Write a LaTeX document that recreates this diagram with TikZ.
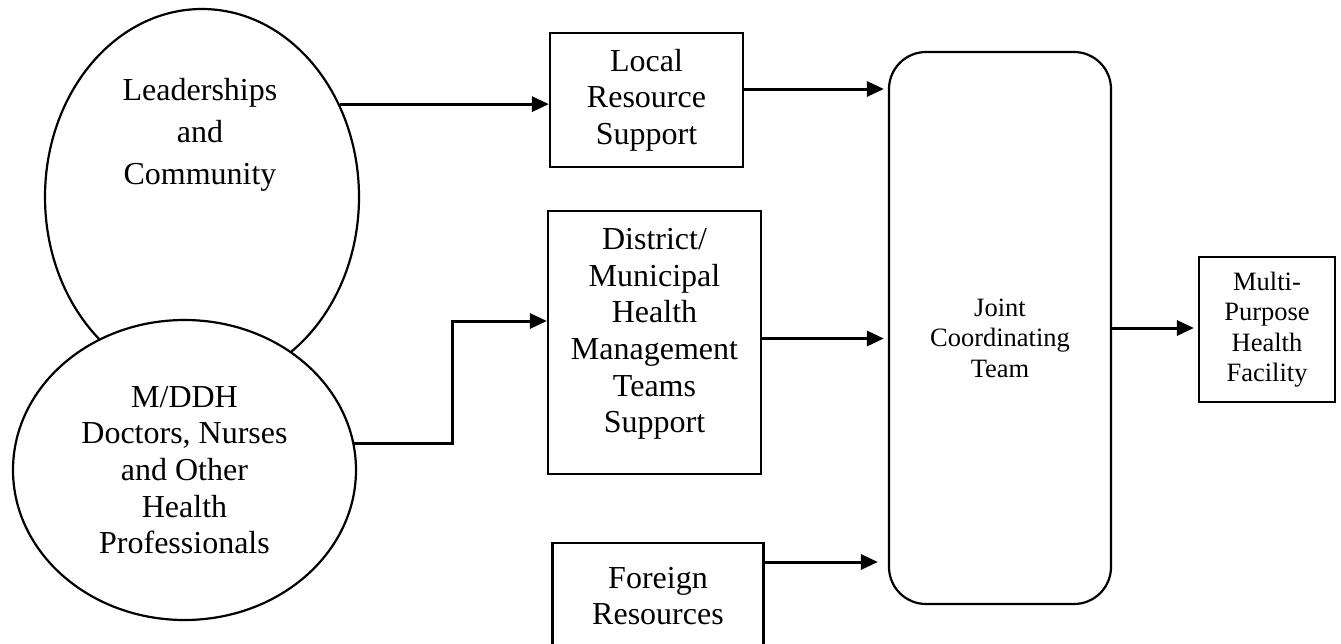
\documentclass[tikz,border=0pt]{standalone}
\usepackage{fontspec}
\setmainfont{Liberation Serif}
\usetikzlibrary{shapes.geometric,arrows.meta}
\begin{document}
\begin{tikzpicture}[x=1pt,y=-1pt,
  bigtext/.style={font=\fontsize{32}{36.6}\selectfont, align=center, inner sep=0pt},
  smalltext/.style={font=\fontsize{26.5}{30.5}\selectfont, align=center, inner sep=0pt},
  oval/.style={draw, line width=2.2pt, shape=ellipse, inner sep=0pt, fill=white},
  rectbox/.style={draw, line width=2.2pt, inner sep=0pt, fill=white},
  conn/.style={line width=3pt, -{Triangle[length=17pt,width=15pt]}}
]
\useasboundingbox (0,0) rectangle (1341,643);

% ellipses
\node[oval, minimum width=314pt, minimum height=376pt] (e1) at (202,197) {};
\node[bigtext, font=\fontsize{32}{42}\selectfont] (t1) at (200,135) {Leaderships\\and\\Community};
\node[oval, minimum width=343pt, minimum height=300pt, bigtext, draw] (e2) at (184.5,470) {M/DDH\\Doctors, Nurses\\and Other\\Health\\Professionals};

% boxes
\node[rectbox, minimum width=193pt, minimum height=134pt, bigtext, draw] (b1) at (646.5,100) {Local\\Resource\\Support};
\node[rectbox, minimum width=213pt, minimum height=263pt] (b2) at (654.5,342.5) {};
\node[bigtext] (t2) at (654.5,334) {District/\\Municipal\\Health\\Management\\Teams\\Support};
\node[rectbox, minimum width=211pt, minimum height=106pt, bigtext, draw] (b3) at (658,596) {Foreign\\Resources};

\node[rectbox, rounded corners=37pt, minimum width=222pt, minimum height=552pt] (jct) at (1000,328) {};
\node[smalltext] (t3) at (1000,338) {Joint\\Coordinating\\Team};

\node[rectbox, minimum width=136pt, minimum height=145pt, smalltext, draw] (mp) at (1267,329.5) {Multi-\\Purpose\\Health\\Facility};

% connectors
\coordinate (k) at (452,321);
\draw[conn] (e1.34) -- (e1.34 -| b1.west);
\draw[conn] (e2.9) -| (k) -- (k -| b2.west);
\draw[conn, shorten >=4pt] ([yshift=11pt]b1.east) -- ([yshift=11pt]b1.east -| jct.west);
\draw[conn, shorten >=4pt] ([yshift=4pt]b2.east) -- ([yshift=4pt]b2.east -| jct.west);
\draw[conn, shorten >=10pt] ([yshift=34pt]b3.east) -- ([yshift=34pt]b3.east -| jct.west);
\draw[conn, shorten >=4pt] (jct.east) -- (jct.east -| mp.west);
\end{tikzpicture}
\end{document}
